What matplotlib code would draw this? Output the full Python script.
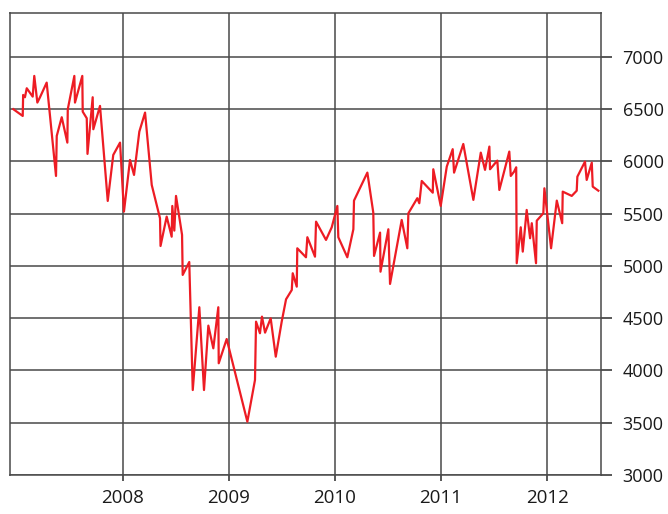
import matplotlib
matplotlib.use("Agg")
import matplotlib.pyplot as plt

plt.rcParams['font.family'] = ['Open Sans', 'DejaVu Sans']

# decimal year of each point
years = [2006.965, 2007.054, 2007.058, 2007.075, 2007.092, 2007.148, 2007.163, 2007.192,
         2007.217, 2007.280, 2007.368, 2007.375, 2007.422, 2007.475, 2007.479, 2007.541,
         2007.547, 2007.616, 2007.620, 2007.658, 2007.665, 2007.714, 2007.720, 2007.783,
         2007.856, 2007.908, 2007.972, 2008.009, 2008.066, 2008.104, 2008.154, 2008.208,
         2008.271, 2008.349, 2008.354, 2008.412, 2008.459, 2008.465, 2008.484, 2008.500,
         2008.557, 2008.563, 2008.625, 2008.658, 2008.720, 2008.764, 2008.805, 2008.852,
         2008.899, 2008.903, 2008.978, 2009.173, 2009.245, 2009.255, 2009.292, 2009.311,
         2009.340, 2009.393, 2009.441, 2009.497, 2009.538, 2009.592, 2009.601, 2009.639,
         2009.644, 2009.726, 2009.739, 2009.811, 2009.821, 2009.915, 2009.969, 2010.022,
         2010.031, 2010.116, 2010.173, 2010.179, 2010.305, 2010.361, 2010.368, 2010.425,
         2010.429, 2010.503, 2010.519, 2010.629, 2010.682, 2010.692, 2010.776, 2010.795,
         2010.818, 2010.922, 2010.927, 2010.997, 2011.054, 2011.110, 2011.123, 2011.210,
         2011.305, 2011.375, 2011.415, 2011.456, 2011.462, 2011.531, 2011.550, 2011.620,
         2011.644, 2011.658, 2011.689, 2011.709, 2011.714, 2011.752, 2011.771, 2011.808,
         2011.840, 2011.856, 2011.896, 2011.903, 2011.965, 2011.975, 2012.038, 2012.092,
         2012.143, 2012.148, 2012.233, 2012.280, 2012.286, 2012.358, 2012.374, 2012.422,
         2012.431, 2012.484]

index = [6500, 6435, 6636, 6614, 6700, 6620, 6818, 6563,
         6614, 6754, 5861, 6244, 6423, 6180, 6499, 6818,
         6563, 6818, 6476, 6413, 6072, 6614, 6308, 6531,
         5622, 6062, 6180, 5520, 6014, 5871, 6285, 6467,
         5775, 5456, 5191, 5472, 5280, 5574, 5338, 5670,
         5297, 4914, 5038, 3813, 4605, 3813, 4429, 4212,
         4605, 4069, 4301, 3510, 3909, 4467, 4356, 4515,
         4362, 4499, 4132, 4467, 4681, 4770, 4930, 4802,
         5169, 5083, 5275, 5089, 5424, 5249, 5370, 5574,
         5275, 5083, 5351, 5625, 5893, 5510, 5096, 5319,
         4945, 5351, 4828, 5440, 5169, 5504, 5648, 5600,
         5813, 5701, 5925, 5574, 5950, 6117, 5893, 6167,
         5632, 6084, 5919, 6142, 5925, 6008, 5727, 5998,
         6094, 5861, 5902, 5944, 5026, 5370, 5137, 5536,
         5265, 5409, 5026, 5433, 5504, 5743, 5169, 5625,
         5409, 5711, 5670, 5720, 5854, 5998, 5823, 5988,
         5759, 5720]

year_ticks = [2008, 2009, 2010, 2011, 2012]
value_ticks = [3000, 3500, 4000, 4500, 5000, 5500, 6000, 6500, 7000]

grid_col = '#4a4a4a'

fig = plt.figure(figsize=(6.68, 5.14), dpi=100)
ax = fig.add_axes([10 / 668, 39 / 514, 591 / 668, 462 / 514])

ax.plot(years, index, color='#ed1c24', linewidth=1.6, zorder=3)

ax.set_xlim(2006.934, 2012.509)
ax.set_ylim(3000, 7420)
ax.set_xticks(year_ticks)
ax.set_xticklabels([str(y) for y in year_ticks])
ax.set_yticks(value_ticks)
ax.set_yticklabels([str(v) for v in value_ticks])
ax.yaxis.tick_right()

ax.grid(True, color=grid_col, linewidth=1.3, alpha=0.85)
for s in ax.spines.values():
    s.set_color(grid_col)
    s.set_linewidth(1.3)
    s.set_alpha(0.85)

ax.tick_params(axis='x', length=4.3, width=1.3, color=grid_col, pad=6,
               labelsize=13.5, labelcolor='#1a1a1a')
ax.tick_params(axis='y', length=8, width=1.3, color=grid_col, pad=7.5,
               labelsize=13, labelcolor='#1a1a1a')

fig.savefig('out.png', dpi=100)
